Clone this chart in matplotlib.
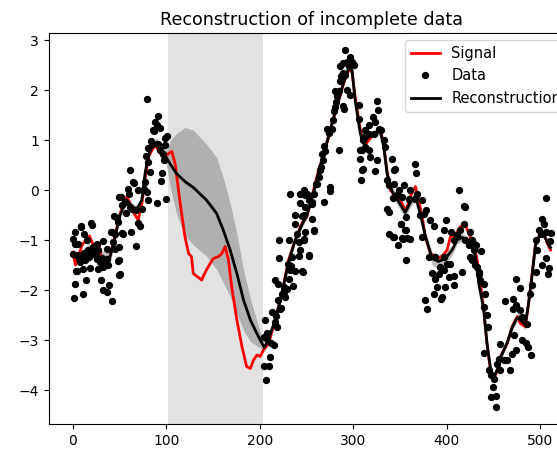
import numpy as np
import matplotlib
matplotlib.use("Agg")
import matplotlib.pyplot as plt

# ---------------- data ----------------
title = "Reconstruction of incomplete data"
gap_start, gap_end = 102, 204

sig_x = [0, 3, 6, 10, 14, 18, 22, 25, 28.5, 31, 35, 40, 45, 50.7, 54, 57.8, 61, 65, 70, 74,
         78, 81, 88, 95, 99, 102, 106, 109.5, 115, 120, 124, 127, 129, 133, 138, 139.6, 143,
         147, 150.5, 156, 159.5, 163, 166.6, 170, 175.6, 181, 186, 190, 193.4, 197, 200.5,
         204, 209.5, 216.6, 223.7, 230.8, 238, 245, 250.5, 257.6, 263, 268, 275.5, 282.7,
         289.7, 295, 298.7, 302, 307.6, 311, 313, 318, 323.5, 329, 332.5, 336, 339.7, 345,
         350.6, 356, 361, 366.5, 370, 373.7, 377, 382.5, 389.7, 395, 400.4, 404, 409, 414.7,
         420, 423.6, 429, 432.6, 436, 439.6, 443, 446.7, 450, 454, 457.5, 464.7, 470, 475.4,
         479, 484, 487.6, 491, 495, 500, 504, 507.6, 511]
sig_y = [-1.24, -1.5, -1.35, -1.1, -1.0, -0.92, -1.1, -1.25, -1.13, -1.4, -1.45, -1.33, -0.93,
         -0.47, -0.3, -0.13, -0.25, -0.45, -0.6, -0.27, 0.3, 0.67, 0.9, 0.7, 0.67, 0.72, 0.77,
         0.53, -0.27, -0.93, -1.27, -1.33, -1.67, -1.73, -1.8, -1.73, -1.6, -1.47, -1.37,
         -1.33, -1.27, -1.13, -1.4, -1.93, -2.6, -3.13, -3.53, -3.57, -3.4, -3.3, -3.33, -3.2,
         -3.07, -2.6, -2.07, -1.4, -1.0, -0.67, -0.53, 0.0, 0.4, 0.67, 1.2, 1.67, 2.13, 2.4,
         2.37, 1.87, 1.2, 0.95, 0.9, 1.03, 1.13, 1.2, 0.93, 0.4, 0.0, -0.13, -0.2, -0.43,
         -0.13, 0.07, -0.2, -0.53, -0.93, -1.27, -1.37, -1.33, -1.2, -0.93, -0.9, -0.73, -0.7,
         -0.87, -1.1, -1.4, -1.87, -2.4, -3.07, -3.6, -3.8, -3.6, -3.33, -3.07, -2.73, -2.53,
         -2.67, -2.73, -2.27, -1.73, -1.07, -0.87, -0.87, -1.07, -1.2]

rec_x = [0, 6, 11.4, 16.7, 22, 29, 34.6, 40, 45.3, 50.6, 57.8, 63, 68.5, 73.9, 77.4, 81, 86.3,
         90, 95.3, 100, 105, 111, 120, 129, 143, 154, 161, 168.4, 175.6, 182.7, 190, 197, 202,
         205, 209, 216.6, 223.7, 230.8, 238, 245, 250.5, 257.6, 263, 268, 275.5, 282.7, 289.7,
         295, 298.7, 302, 307.6, 311, 316.5, 321.8, 329, 332.6, 336.2, 341.5, 348.5, 355.6,
         361.1, 366.5, 372, 377.3, 384.4, 391.4, 398.6, 405.8, 411.1, 416.5, 421.8, 427.2,
         430.7, 434.3, 439.6, 443, 446.7, 450, 454, 457.5, 464.7, 470, 475.4, 479, 484, 487.6,
         491, 495, 500, 504, 507.6, 511]
rec_y = [-1.27, -1.4, -1.27, -1.17, -1.2, -1.33, -1.4, -1.33, -0.95, -0.5, -0.2, -0.33, -0.39,
         -0.2, 0.33, 0.7, 0.93, 0.95, 0.8, 0.65, 0.5, 0.33, 0.17, 0.05, -0.2, -0.47, -0.8,
         -1.2, -1.67, -2.2, -2.6, -2.87, -3.05, -3.15, -3.0, -2.6, -2.07, -1.45, -1.0, -0.7,
         -0.5, -0.05, 0.35, 0.7, 1.2, 1.7, 2.15, 2.43, 2.4, 1.8, 1.13, 0.93, 1.07, 1.13, 1.17,
         0.87, 0.33, -0.03, -0.23, -0.45, -0.25, -0.12, -0.5, -0.93, -1.37, -1.43, -1.37,
         -1.2, -1.0, -0.95, -1.0, -1.13, -1.33, -1.87, -2.4, -3.05, -3.55, -3.75, -3.6, -3.35,
         -3.05, -2.75, -2.55, -2.6, -2.7, -2.25, -1.75, -1.1, -0.87, -0.9, -1.05, -1.15]
rec_sd = [0.08, 0.1, 0.1, 0.1, 0.12, 0.15, 0.15, 0.12, 0.1, 0.08, 0.08, 0.08, 0.08, 0.08, 0.08,
          0.08, 0.08, 0.08, 0.08, 0.15, 0.5, 0.8, 1.08, 1.15, 1.12, 1.12, 1.05, 0.93, 0.8, 0.6,
          0.43, 0.25, 0.12, 0.08, 0.07, 0.07, 0.07, 0.07, 0.07, 0.07, 0.07, 0.07, 0.07, 0.07,
          0.07, 0.07, 0.07, 0.07, 0.07, 0.07, 0.07, 0.07, 0.07, 0.07, 0.07, 0.07, 0.08, 0.1,
          0.12, 0.12, 0.1, 0.08, 0.08, 0.1, 0.13, 0.15, 0.13, 0.1, 0.08, 0.08, 0.08, 0.08,
          0.07, 0.07, 0.07, 0.07, 0.08, 0.08, 0.08, 0.08, 0.07, 0.07, 0.08, 0.1, 0.1, 0.08,
          0.07, 0.07, 0.07, 0.07, 0.07, 0.08]

data_x = [0, 2.5, 8.5, 12, 20, 21, 2.5, 15, 25.7, 32, 40.7, 43.5, 0.7, 6, 16.7, 22, 36.4, 17.8,
          25.7, 7.8, 13, 29, 36.4, 49, 3.5, 10.7, 18.5, 27.4, 32.8, 14.2, 30, 2.5, 39, 32.8,
          36.4, 10.7, 1.4, 42.4, 50, 49, 50, 44, 5.3, 9, 4.3, 20, 24, 27, 31, 34, 38, 12, 8,
          80, 91, 88, 90, 100.6, 98.8, 87.4, 83.8, 84.5, 91, 81, 93.5, 97, 78, 98, 61.3, 95.3,
          82.7, 66, 94.5, 58.9, 69.6, 79.2, 60.3, 51.7, 99.9, 81, 56, 90, 63, 73.9, 47, 56.7,
          67.5, 70.3, 72, 62.4, 53, 45.3, 67.5, 48.8, 50.3, 76.7, 77.4, 81, 98.8, 48.2, 52.5,
          61.3, 93.5, 86.3, 65, 54, 41.7, 45.3,
          206, 204.5, 209.5, 206.6, 210.5, 207.7, 205, 207.7, 212.3, 214.8, 216.6, 218.4,
          217.4, 213, 223, 220, 223.8, 216.6, 219.5, 227.3, 225.5, 229, 225.5, 230.8, 236,
          232.7, 233.7, 230.2, 238, 245, 234.5, 220.9, 241.5, 252.3, 243.4, 241.5, 220.9,
          231.6, 246.9, 239.8, 248.7, 257.6, 237.3, 245.2, 238, 248, 243.4, 252.3, 248, 250.5,
          232.7, 243.4, 255.9, 260, 222, 246.6, 252.7,
          247.6, 257.6, 246.9, 255.9, 246.9, 257.6, 269, 256, 274.7, 274.7, 261.2, 263, 264.8,
          265.5, 267.7, 270, 266.6, 269, 284.4, 273.7, 277.3, 272, 278.4, 279, 280.8, 281.9,
          280.8, 284.4, 282.7, 289, 289.7, 285.4, 286.9, 286.2, 289, 293.4, 291.5, 296.9, 295,
          300.4, 298.7, 289, 291.5, 293.4, 296.9, 305.8, 305.8, 311, 309.4, 307.6, 309.4, 308.4,
          325.5, 326.6, 320.8, 323.6, 316.5, 327.2, 330, 312.9, 317.2, 321.8, 311, 332.6, 334.4,
          312.9, 316.5, 307.6, 318.3, 325.5, 311, 323.6, 341.5, 345, 343.3, 365.7, 367.2, 336.2,
          338, 343.3, 354, 361.1, 348.5, 346.9, 352.3, 360, 342.2, 366.5, 336.2, 338, 356.5,
          350.6, 355, 338.7, 342.2, 352.3, 357.6, 348, 356.9, 343.7, 353.6, 356.1, 351.5, 360.8,
          368.3, 373.7, 375.4, 378.3, 371.8, 382.5, 386, 373.7, 380.8, 388, 393.2, 399.7, 396.8,
          404.7, 412.9, 419, 418.2, 414.7, 411.1, 407.5, 420, 423.6, 427.2, 429, 427.2, 430.7,
          434.3, 396.8, 400.4, 404, 393.2, 384.4, 391.4, 396.8, 402.2, 407.5, 416.5, 388, 389.7,
          398.6, 407.5, 386, 395, 377.2, 379, 393.6, 419.7,
          505.7, 502.1, 503.9, 498.5, 495, 500.3, 505.7, 511, 510.3, 506.7, 509.2, 508.1, 502.1,
          496.8, 495, 491.4, 488.9, 474.6, 478.9, 471.1, 462.8, 474.6, 471.1, 478.9, 480.7, 486,
          480.7, 484.3, 486.7, 490.4, 471.8, 473.6, 470, 457.5, 461, 455.7, 464.7, 454, 468.2,
          457.5, 445, 447.5, 451, 449.6, 447.5, 452.2, 452.2, 439.6, 444.3, 443, 441.4, 439.6,
          436, 434.2, 432.5, 436.8, 431.8, 428.9, 427.2, 425.4, 425.4, 439.6]
data_y = [-0.97, -0.83, -0.72, -0.88, -0.65, -0.7, -1.08, -1.0, -1.07, -1.01, -0.83, -1.03,
          -1.27, -1.3, -1.2, -1.13, -1.17, -1.33, -1.37, -1.43, -1.4, -1.43, -1.37, -1.4, -1.61,
          -1.57, -1.55, -1.58, -1.53, -1.79, -1.79, -1.88, -1.9, -2.0, -2.03, -2.07, -2.15,
          -2.21, -1.7, -1.13, -0.13, -0.52, -1.08, -0.73, -1.61, -1.25, -1.3, -1.2, -1.35,
          -1.45, -1.5, -1.25, -1.35,
          1.82, 1.48, 1.35, 1.3, 1.08, 1.05, 1.19, 0.99, 0.93, 0.93, 0.85, 0.8, 0.73, 0.68,
          0.61, 0.4, 0.35, 0.37, 0.15, 0.19, 0.03, 0.0, -0.03, -0.07, -0.13, -0.17, -0.19,
          -0.23, -0.25, -0.37, -0.37, -0.55, -0.45, -0.4, -0.65, -0.72, -0.83, -0.85, -0.87,
          -1.12, -1.41, -1.67, 0.03, 0.17, 0.57, 0.9, -0.63, -0.3, -0.33, 1.25, 1.2, 0.17,
          -0.87, -0.83, -1.17,
          -2.6, -3.52, -3.52, -3.8, -3.33, -2.97, -2.93, -2.85, -3.05, -3.1, -2.63, -2.73,
          -2.52, -2.43, -2.35, -2.2, -2.07, -1.79, -1.87, -2.13, -2.03, -1.97, -1.93, -1.77,
          -1.92, -1.6, -1.52, -1.47, -1.62, -1.62, -1.33, -1.35, -1.32, -1.32, -1.2, -1.03,
          -0.99, -1.0, -0.99, -0.87, -0.83, -0.8, -0.5, -0.52, -0.67, -0.33, -0.25, -0.19,
          -0.1, -0.07, -0.07, -0.07, -0.27, 0.13, -2.37, -1.63, -1.3,
          -0.98, -0.81, -0.5, -0.57, 0.0, -0.07, -0.23, -0.23, 0.07, -0.01, 0.13, 0.27, 0.4,
          0.47, 0.6, 0.79, 0.73, 0.88, 0.8, 1.15, 1.23, 1.23, 1.41, 1.57, 1.65, 1.75, 1.97,
          1.97, 1.87, 1.68, 1.63, 2.17, 2.27, 2.48, 2.53, 2.57, 2.8, 2.65, 2.48, 2.5, 2.55,
          2.33, 2.3, 1.99, 1.9, 1.7, 1.43, 1.0, 0.8, 0.63, 0.4, 0.2,
          1.77, 1.6, 1.45, 1.35, 1.3, 1.23, 1.21, 1.2, 1.13, 1.13, 1.07, 1.0, 0.87, 0.87, 0.8,
          0.8, 0.67, 0.6, 0.43, 0.39, 0.63, 0.43, 0.4, 0.53, 0.35, 0.2, 0.1, 0.13, 0.1, 0.01,
          0.0, -0.1, -0.13, -0.17, -0.15, -0.17, -0.37, -0.43, -0.53, -0.67, -0.79, -0.87,
          -0.93, -0.95, -0.95, -1.1, -1.4, -0.93, -0.97, -0.8, -0.68, -0.97,
          -0.07, -0.2, -0.47, -0.4, -0.5, -0.6, -0.72, -0.93, -1.33, -1.33, -1.0, -0.6, -0.8,
          -0.83, 0.01, -0.32, -0.67, -0.8, -0.9, -0.99, -1.0, -1.1, -1.1, -1.2, -1.4, -1.5,
          -1.67, -1.33, -1.47, -1.47, -1.53, -1.65, -1.67, -1.6, -1.73, -1.72, -1.63, -1.77,
          -1.93, -1.93, -1.9, -2.07, -2.13, -2.2, -2.37, -2.17, -0.33,
          -0.15, -0.57, -0.67, -0.79, -1.0, -0.87, -0.83, -0.85, -1.01, -1.35, -1.55, -1.67,
          -1.5, -1.2, -1.63, -1.9, -2.07, -1.77, -1.95, -2.17, -2.22, -2.3, -2.37, -2.4, -2.53,
          -2.67, -2.99, -3.05, -3.13, -3.3, -2.9, -3.2, -3.27, -3.07, -3.4, -3.37, -3.4, -3.47,
          -3.6, -3.6, -3.6, -3.7, -3.77, -3.93, -4.13, -4.12, -4.33, -3.25, -2.73, -2.5, -2.07,
          -1.87, -1.8, -1.63, -1.53, -1.21, -1.1, -1.07, -1.0, -0.83, -1.33, -2.33]

# ---------------- figure ----------------
W, H = 557, 450
fig = plt.figure(figsize=(W / 100, H / 100), dpi=100)
ax = fig.add_axes([48.8 / W, 26 / H, 525.6 / W, 391 / H])

ax.axvspan(gap_start, gap_end, color='#e2e2e2', zorder=0, lw=0)

rx = np.array(rec_x)
ry = np.array(rec_y)
rs = np.array(rec_sd)
ax.fill_between(rx, ry - rs, ry + rs, color='gray', alpha=0.5, lw=0, zorder=1)

ax.plot(sig_x, sig_y, color='red', lw=2, label='Signal', zorder=2)
ax.plot(data_x, data_y, 'k.', ms=8.5, label='Data', zorder=3)
ax.plot(rec_x, rec_y, color='black', lw=2, label='Reconstruction', zorder=4)

ax.set_xlim(-25.55, 536.55)
ax.set_ylim(-4.68, 3.14)
ax.set_xticks([0, 100, 200, 300, 400, 500])
ax.set_yticks([-4, -3, -2, -1, 0, 1, 2, 3])
ax.set_title(title, fontsize=12.6)
ax.legend(loc='upper right', fontsize=10.5)

fig.savefig('out.png', dpi=100)
